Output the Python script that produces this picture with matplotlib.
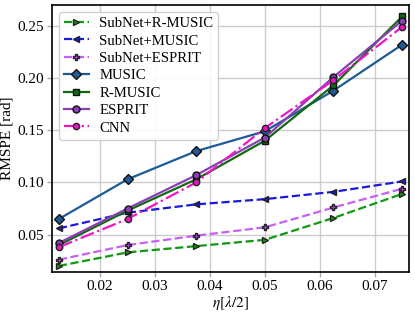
import matplotlib
matplotlib.use("Agg")
import matplotlib.pyplot as plt

plt.rcParams['font.family'] = ['Liberation Serif', 'DejaVu Serif']
plt.rcParams['mathtext.fontset'] = 'stix'

eta = [0.0125, 0.025, 0.0375, 0.05, 0.0625, 0.075]
subnet_rmusic = [0.020, 0.033, 0.039, 0.045, 0.066, 0.089]
subnet_music = [0.056, 0.071, 0.079, 0.084, 0.091, 0.101]
subnet_esprit = [0.026, 0.040, 0.049, 0.057, 0.076, 0.094]
music = [0.065, 0.103, 0.130, 0.149, 0.188, 0.232]
rmusic = [0.040, 0.073, 0.103, 0.140, 0.193, 0.259]
esprit = [0.042, 0.075, 0.107, 0.143, 0.201, 0.255]
cnn = [0.038, 0.065, 0.100, 0.152, 0.198, 0.249]

fig = plt.figure(figsize=(4.15, 3.12), dpi=100)
ax = fig.add_axes([52/415, 1-272/312, (409-52)/415, (272-5)/312])

ms = 5
ax.plot(eta, subnet_rmusic, '--', marker='>', color='#119911', mfc='#119911', mec='#222222', lw=1.6, ms=ms, label='SubNet+R-MUSIC')
ax.plot(eta, subnet_music, '--', marker='<', color='#1a1adf', mfc='#1a1adf', mec='#222222', lw=1.6, ms=ms, label='SubNet+MUSIC')
ax.plot(eta, subnet_esprit, '--', marker='P', color='#c860f5', mfc='#b040e0', mec='#222222', lw=1.6, ms=ms, label='SubNet+ESPRIT')
ax.plot(eta, music, '-', marker='D', color='#1d5a96', mfc='#1d5a96', mec='#111111', lw=1.6, ms=ms, label='MUSIC')
ax.plot(eta, rmusic, '-', marker='s', color='#106b10', mfc='#106b10', mec='#111111', lw=1.6, ms=ms, label='R-MUSIC')
ax.plot(eta, esprit, '-', marker='o', color='#8a3fb5', mfc='#8a3fb5', mec='#111111', lw=1.6, ms=ms, label='ESPRIT')
ax.plot(eta, cnn, '-.', marker='o', color='#f014c8', mfc='#f014c8', mec='#222222', lw=1.6, ms=4.5, label='CNN')

ax.set_xlim(0.01125, 0.07625)
ax.set_ylim(0.0142, 0.270)
ax.set_xticks([0.02, 0.03, 0.04, 0.05, 0.06, 0.07])
ax.set_yticks([0.05, 0.10, 0.15, 0.20, 0.25])
ax.set_xticklabels(['0.02', '0.03', '0.04', '0.05', '0.06', '0.07'])
ax.set_yticklabels(['0.05', '0.10', '0.15', '0.20', '0.25'])
ax.tick_params(labelsize=11, length=3.5, width=1, color='#aaaaaa', pad=2, direction='out')
ax.grid(True, color='#cccccc', lw=1)
ax.set_axisbelow(True)
for s in ax.spines.values():
    s.set_linewidth(1.2)
ax.set_xlabel(r'$\eta[\lambda/2]$', fontsize=11, labelpad=1)
ax.set_ylabel('RMSPE [rad]', fontsize=11, labelpad=3)
ax.legend(loc='upper left', fontsize=10.6, handlelength=1.7, handletextpad=0.7,
          labelspacing=0.28, borderaxespad=0.45, borderpad=0.35,
          framealpha=0.9, edgecolor='#cccccc', fancybox=True)

fig.savefig('out.png', dpi=100)
